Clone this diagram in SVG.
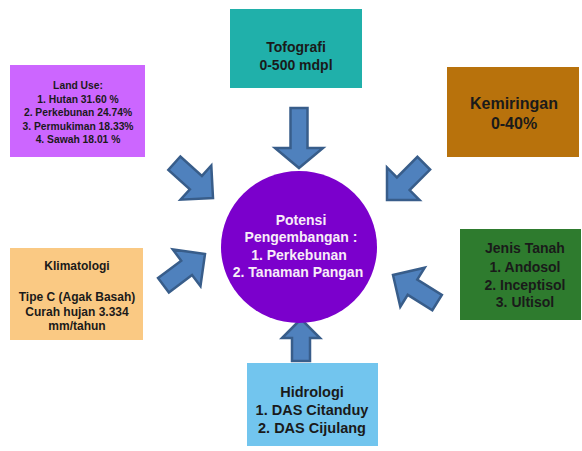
<svg xmlns="http://www.w3.org/2000/svg" width="582" height="451" viewBox="0 0 582 451">
<style>
text{font-family:"Liberation Sans",Arial,sans-serif;font-weight:bold;text-anchor:middle;fill:#1a1a1a}
.arrow{fill:#4F81BD;stroke:#385D8A;stroke-width:2.5;stroke-linejoin:miter}
.lt{fill:#F8ECF8}
</style>
<defs>
<path id="diag" d="M0,0 L-23,-23 L-23,-9 L-52,-9 L-52,9 L-23,9 L-23,23 Z"/>
</defs>
<rect width="582" height="451" fill="#ffffff"/>
<g id="connectors">
<path class="arrow" transform="translate(299,168) rotate(90)" d="M0,0 L-20,-24 L-20,-8.5 L-60,-8.5 L-60,8.5 L-20,8.5 L-20,24 Z"/>
<path class="arrow" transform="translate(301,319) rotate(-90)" d="M0,0 L-19,-19 L-19,-9 L-42,-9 L-42,9 L-19,9 L-19,19 Z"/>
<use href="#diag" class="arrow" transform="translate(213,198) rotate(42)"/>
<use href="#diag" class="arrow" transform="translate(387,200) rotate(135)"/>
<use href="#diag" class="arrow" transform="translate(205,254) rotate(-37)"/>
<use href="#diag" class="arrow" transform="translate(393,275) rotate(212)"/>
</g>
<g id="landuse">
<rect x="10" y="65" width="135" height="92" fill="#CC66FF"/>
<text font-size="10.3" y="89" x="78"><tspan x="78">Land Use:</tspan><tspan x="78" dy="13.5">1. Hutan 31.60 %</tspan><tspan x="78" dy="13.5">2. Perkebunan 24.74%</tspan><tspan x="78" dy="13.5">3. Permukiman 18.33%</tspan><tspan x="78" dy="13.5">4. Sawah 18.01 %</tspan></text>
</g>
<g id="tofografi">
<rect x="230" y="9" width="132" height="79" fill="#20B0AA"/>
<text font-size="14" x="296" y="52"><tspan x="296">Tofografi</tspan><tspan x="296" dy="18">0-500 mdpl</tspan></text>
</g>
<g id="kemiringan">
<rect x="447" y="67" width="132" height="90" fill="#B8720C"/>
<text font-size="16" x="514" y="109"><tspan x="514">Kemiringan</tspan><tspan x="514" dy="20">0-40%</tspan></text>
</g>
<g id="klimatologi">
<rect x="10" y="248" width="133" height="92" fill="#FAC983"/>
<text font-size="12" x="77" y="270"><tspan x="77">Klimatologi</tspan><tspan x="77" dy="31">Tipe C (Agak Basah)</tspan><tspan x="77" dy="15">Curah hujan 3.334</tspan><tspan x="77" dy="14">mm/tahun</tspan></text>
</g>
<g id="jenistanah">
<rect x="460" y="229" width="121" height="91" fill="#2E7B2E"/>
<text font-size="14" x="525" y="253"><tspan x="525">Jenis Tanah</tspan><tspan x="525" dy="18.5">1. Andosol</tspan><tspan x="525" dy="18">2. Inceptisol</tspan><tspan x="525" dy="17.5">3. Ultisol</tspan></text>
</g>
<g id="hidrologi">
<rect x="247" y="363" width="131" height="83" fill="#72C5EE"/>
<text font-size="14.5" x="312" y="397"><tspan x="312">Hidrologi</tspan><tspan x="312" dy="18">1. DAS Citanduy</tspan><tspan x="312" dy="18">2. DAS Cijulang</tspan></text>
</g>
<g id="potensi">
<ellipse cx="299" cy="247" rx="78" ry="76" fill="#7B00CC"/>
<text class="lt" font-size="14" x="300" y="225"><tspan x="301">Potensi</tspan><tspan x="301" dy="17">Pengembangan :</tspan><tspan x="299" dy="17.5">1. Perkebunan</tspan><tspan x="298" dy="17.5">2. Tanaman Pangan</tspan></text>
</g>
</svg>
